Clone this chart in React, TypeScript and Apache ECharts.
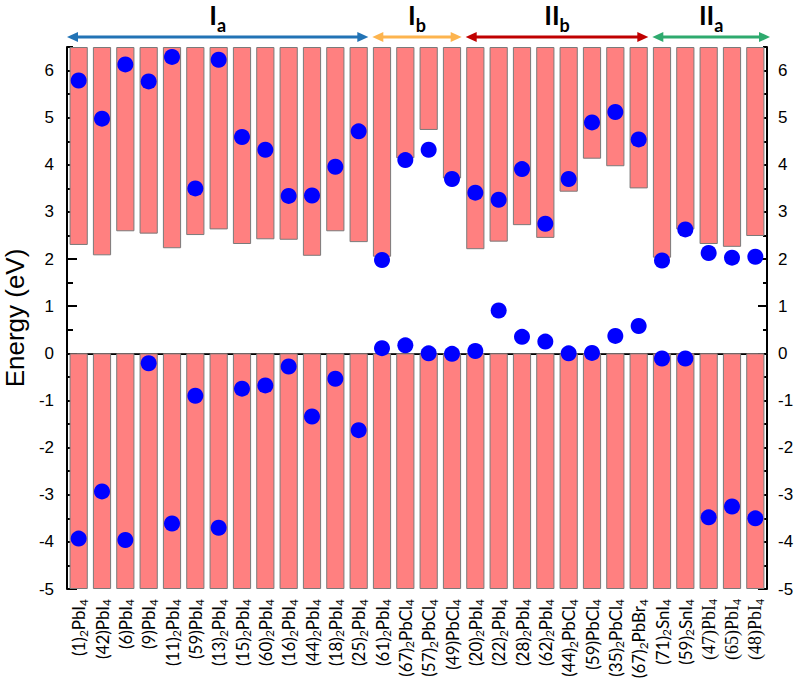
import React, { useEffect, useRef } from "react";
import * as echarts from "echarts";

// Category labels: "_d" marks a subscript digit
const categories = [
  "(1)_2PbI_4", "(42)PbI_4", "(6)PbI_4", "(9)PbI_4", "(11)_2PbI_4", "(59)PbI_4", "(13)_2PbI_4",
  "(15)_2PbI_4", "(60)_2PbI_4", "(16)_2PbI_4", "(44)_2PbI_4", "(18)_2PbI_4", "(25)_2PbI_4",
  "(61)_2PbI_4", "(67)_2PbCl_4", "(57)_2PbCl_4", "(49)PbCl_4",
  "(20)_2PbI_4", "(22)_2PbI_4", "(28)_2PbI_4", "(62)_2PbI_4", "(44)_2PbCl_4", "(59)PbCl_4",
  "(35)_2PbCl_4", "(67)_2PbBr_4",
  "(71)_2SnI_4", "(59)_2SnI_4", "(47)PbI_4", "(65)PbI_4", "(48)PbI_4",
];

// Lower edge of the upper (red) bars, eV
const upperBarBottom = [
  2.30, 2.08, 2.59, 2.54, 2.23, 2.51, 2.63, 2.32, 2.42, 2.41, 2.07, 2.59, 2.36,
  2.05, 4.14, 4.74, 3.71,
  2.21, 2.37, 2.72, 2.45, 3.43, 4.13, 3.97, 3.50,
  2.03, 2.63, 2.32, 2.26, 2.49,
];

// Lower bars (from 0 down to)
const lowerBarBottom = categories.map(() => -5);

// Upper blue dots, eV
const upperDots = [
  5.79, 4.98, 6.13, 5.77, 6.29, 3.50, 6.23, 4.59, 4.32, 3.34, 3.35, 3.96, 4.71,
  1.98, 4.10, 4.32, 3.70,
  3.41, 3.26, 3.91, 2.75, 3.70, 4.90, 5.12, 4.54,
  1.97, 2.63, 2.13, 2.03, 2.05,
];

// Lower blue dots, eV
const lowerDots = [
  -3.93, -2.93, -3.96, -0.21, -3.61, -0.90, -3.70, -0.75, -0.68, -0.28, -1.34, -0.54, -1.63,
  0.11, 0.17, 0.00, -0.01,
  0.05, 0.91, 0.35, 0.25, 0.00, 0.01, 0.37, 0.58,
  -0.11, -0.11, -3.48, -3.25, -3.50,
];

const yTickValues = [-5, -4, -3, -2, -1, 0, 1, 2, 3, 4, 5, 6];
const yMinorTickValues = [-4.5, -3.5, -2.5, -1.5, -0.5, 0.5, 1.5, 2.5, 3.5, 4.5, 5.5, 6.5];
const Y_MIN = -5;
const Y_MAX = 6.5;

const groups = [
  { main: "I", sub: "a", from: 0, to: 12, color: "#2273B5" },
  { main: "I", sub: "b", from: 13, to: 16, color: "#FDB44E" },
  { main: "II", sub: "b", from: 17, to: 24, color: "#C00000" },
  { main: "II", sub: "a", from: 25, to: 29, color: "#2EAA6E" },
];

const SERIF_LABEL_FROM = 27;

export default function App() {
  const ref = useRef<HTMLDivElement>(null);

  useEffect(() => {
    if (!ref.current) return;
    const chart = echarts.init(ref.current, undefined, { renderer: "svg" });

    const labelFormatter = (value: string, index: number) => {
      const serif = index >= SERIF_LABEL_FROM;
      const n = serif ? "r" : "n";
      const s = serif ? "rs" : "s";
      const parts = value.split(/_(\d)/);
      return parts
        .map((p, i) => (p === "" ? "" : i % 2 ? `{${s}|${p}}` : `{${n}|${p}}`))
        .join("");
    };

    const yAxisCommon = (pos: "left" | "right", major: boolean) => ({
      type: "value",
      position: pos,
      min: Y_MIN,
      max: Y_MAX,
      interval: 0.5,
      splitLine: { show: false },
      axisLine: { show: major, lineStyle: { color: "#000", width: 2 } },
      axisTick: {
        show: true,
        inside: true,
        length: major ? (pos === "left" ? 10 : 9) : (pos === "left" ? 6 : 4),
        lineStyle: { color: "#000", width: 2 },
        customValues: major ? yTickValues : yMinorTickValues,
      },
      axisLabel: {
        show: major,
        customValues: yTickValues,
        margin: pos === "left" ? 13 : 11,
        fontSize: 17,
        color: "#000",
        fontFamily: "Liberation Sans",
      },
    });

    chart.setOption({
      animation: false,
      backgroundColor: "#fff",
      grid: { left: 67, right: 36, top: 47, bottom: 91, outerBoundsMode: "none", containLabel: false },
      xAxis: [
        {
          type: "category",
          data: categories,
          position: "bottom",
          axisLine: { lineStyle: { color: "#000", width: 2 } },
          axisTick: { show: false },
          axisLabel: {
            interval: 0,
            rotate: 90,
            margin: 10,
            formatter: labelFormatter,
            rich: {
              n: { fontSize: 17, fontFamily: "Lato", color: "#000", lineHeight: 21 },
              s: { fontSize: 12, fontFamily: "Lato", color: "#000", verticalAlign: "bottom" },
              r: { fontSize: 18, fontFamily: "Liberation Serif", color: "#000", lineHeight: 21 },
              rs: { fontSize: 12, fontFamily: "Liberation Serif", color: "#000", verticalAlign: "bottom" },
            },
          },
        },
        {
          type: "category",
          data: categories,
          position: "top",
          axisLine: { lineStyle: { color: "#333", width: 1 } },
          axisTick: { show: false },
          axisLabel: { show: false },
        },
      ],
      yAxis: [
        {
          ...yAxisCommon("left", true),
          name: "Energy (eV)",
          nameLocation: "middle",
          nameGap: 39,
          nameTextStyle: { fontSize: 26, color: "#000", fontFamily: "Liberation Sans" },
        },
        yAxisCommon("left", false),
        yAxisCommon("right", true),
        yAxisCommon("right", false),
      ],
      series: [
        {
          type: "bar",
          stack: "e",
          data: upperBarBottom,
          barWidth: "78%",
          itemStyle: { color: "transparent", borderWidth: 0 },
          silent: true,
        },
        {
          type: "bar",
          stack: "e",
          data: upperBarBottom.map((v) => +(Y_MAX - v).toFixed(2)),
          barWidth: "78%",
          itemStyle: { color: "#FF8080", borderColor: "#7a7a7a", borderWidth: 1 },
        },
        {
          type: "bar",
          stack: "e",
          data: lowerBarBottom,
          barWidth: "78%",
          itemStyle: { color: "#FF8080", borderColor: "#7a7a7a", borderWidth: 1 },
        },
        {
          type: "scatter",
          data: upperDots,
          symbolSize: 16,
          itemStyle: { color: "#0000FF", opacity: 1 },
          z: 5,
        },
        {
          type: "scatter",
          data: lowerDots,
          symbolSize: 16,
          itemStyle: { color: "#0000FF", opacity: 1 },
          z: 5,
        },
      ],
    });

    // group annotations (arrows + labels) positioned from the category axis
    const xAt = (i: number) => chart.convertToPixel({ xAxisIndex: 0 }, i) as number;
    const band = xAt(1) - xAt(0);
    const arrowY = 37;
    const headL = 11;
    const headW = 5;
    const graphics: any[] = [];
    groups.forEach((g, gi) => {
      const xs = xAt(g.from) - band / 2 + (gi === 0 ? 0 : 2);
      const xe = xAt(g.to) + band / 2 - (gi === groups.length - 1 ? -3 : 2);
      graphics.push({
        type: "line",
        shape: { x1: xs + headL - 1, y1: arrowY, x2: xe - headL + 1, y2: arrowY },
        style: { stroke: g.color, lineWidth: 3 },
      });
      graphics.push({
        type: "polygon",
        shape: { points: [[xs, arrowY], [xs + headL, arrowY - headW], [xs + headL, arrowY + headW]] },
        style: { fill: g.color },
      });
      graphics.push({
        type: "polygon",
        shape: { points: [[xe, arrowY], [xe - headL, arrowY - headW], [xe - headL, arrowY + headW]] },
        style: { fill: g.color },
      });
      graphics.push({
        type: "text",
        x: (xs + xe) / 2,
        y: 15,
        style: {
          text: `{m|${g.main}}{s|${g.sub}}`,
          align: "center",
          verticalAlign: "middle",
          rich: {
            m: { fontSize: 26, fontWeight: "bold", fontFamily: "Lato", fill: "#000", lineHeight: 38 },
            s: { fontSize: 18, fontWeight: "bold", fontFamily: "Lato", fill: "#000", verticalAlign: "bottom" },
          },
        },
      });
    });
    chart.setOption({ graphic: graphics });

    return () => chart.dispose();
  }, []);

  return (
    <div
      ref={ref}
      style={{ position: "fixed", left: 0, top: 0, width: 803, height: 680 }}
    />
  );
}
